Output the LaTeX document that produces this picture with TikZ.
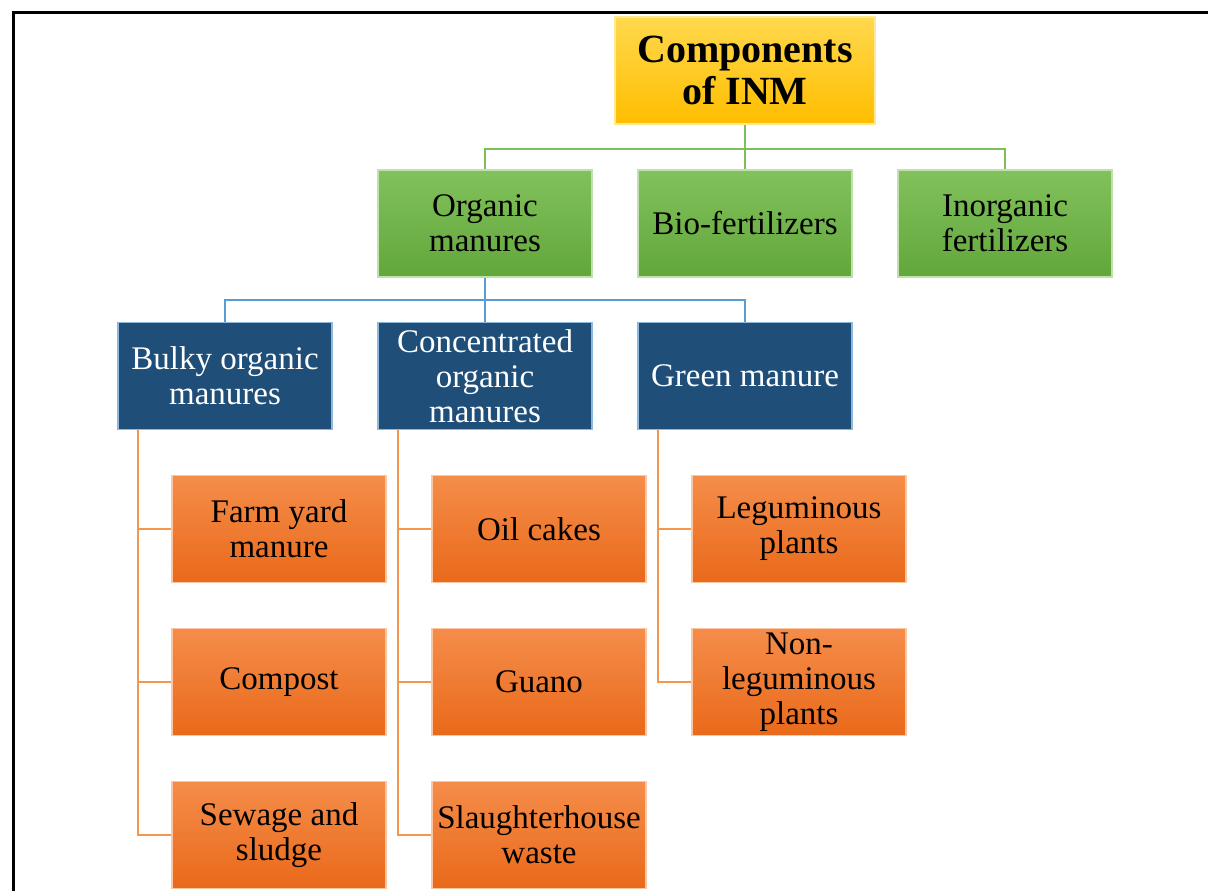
\documentclass[tikz,border=0pt]{standalone}
\usepackage{fontspec}
\setmainfont{Liberation Serif}
\usepackage{tikz}
\pgfdeclarelayer{edgelayer}
\pgfdeclarelayer{nodelayer}
\pgfsetlayers{edgelayer,nodelayer,main}
\definecolor{goldtop}{HTML}{FFD84D}
\definecolor{goldbot}{HTML}{FFBE00}
\definecolor{greentop}{HTML}{82C15C}
\definecolor{greenbot}{HTML}{62A73B}
\definecolor{darkblue}{HTML}{1F4E79}
\definecolor{orangetop}{HTML}{F58D4A}
\definecolor{orangebot}{HTML}{E9691A}
\definecolor{greenline}{HTML}{7CC05A}
\definecolor{blueline}{HTML}{5B9BD5}
\definecolor{orangeline}{HTML}{F3974F}
\tikzstyle{box}=[rectangle, minimum width=107pt, minimum height=53.5pt, inner sep=0pt, align=center, font=\fontsize{16.5}{17.5}\selectfont, line width=0.6pt]
\tikzstyle{goldbox}=[box, top color=goldtop, bottom color=goldbot, draw=goldtop!60!white, font=\fontsize{20}{21}\selectfont\bfseries, minimum width=130pt]
\tikzstyle{greenbox}=[box, top color=greentop, bottom color=greenbot, draw=greentop!50!white]
\tikzstyle{bluebox}=[box, fill=darkblue, draw=blueline!70!white, text=white]
\tikzstyle{orangebox}=[box, top color=orangetop, bottom color=orangebot, draw=orangetop!50!white]
\tikzstyle{greenedge}=[draw=greenline, line width=1pt]
\tikzstyle{blueedge}=[draw=blueline, line width=1pt]
\tikzstyle{orangeedge}=[draw=orangeline, line width=1pt]
\tikzstyle{frame}=[draw=black, line width=1.5pt]

\begin{document}
\begin{tikzpicture}[x=0.5pt, y=-0.5pt]
	\useasboundingbox (0,0) rectangle (1208,891);
	\draw [style=frame] (13,891) |- (1208,12.5);
	\begin{pgfonlayer}{nodelayer}

	%level 0
		\node [style=goldbox] (inm) at (745.0,70.5) {Components\\of INM};

	%level 1
		\node [style=greenbox] (org) at (485.0,223.5) {Organic\\manures};
		\node [style=greenbox] (bio) at (745.0,223.5) {Bio-fertilizers};
		\node [style=greenbox] (inorg) at (1005.0,223.5) {Inorganic\\fertilizers};

	%level 2
		\node [style=bluebox] (bulky) at (225.0,376.0) {Bulky organic\\manures};
		\node [style=bluebox] (conc) at (485.0,376.0) {Concentrated\\organic\\manures};
		\node [style=bluebox] (gm) at (745.0,376.0) {Green manure};

	%level 3
		\node [style=orangebox] (fym) at (279.0,529.0) {Farm yard\\manure};
		\node [style=orangebox] (compost) at (279.0,682.0) {Compost};
		\node [style=orangebox] (sewage) at (279.0,835.0) {Sewage and\\sludge};
		\node [style=orangebox] (oil) at (539.0,529.0) {Oil cakes};
		\node [style=orangebox] (guano) at (539.0,682.0) {Guano};
		\node [style=orangebox] (slaughter) at (539.0,835.0) {Slaughterhouse\\waste};
		\node [style=orangebox] (leg) at (799.0,529.0) {Leguminous\\plants};
		\node [style=orangebox] (nonleg) at (799.0,682.0) {Non-\\leguminous\\plants};

	\end{pgfonlayer}
	\begin{pgfonlayer}{edgelayer}

		%level 0 to 1
		\draw [style=greenedge] (inm.south) -- ++(0,24) -| (org.north);
		\draw [style=greenedge] (inm.south) -- (bio.north);
		\draw [style=greenedge] (inm.south) -- ++(0,24) -| (inorg.north);

		%level 1 to 2
		\draw [style=blueedge] (org.south) -- ++(0,22) -| (bulky.north);
		\draw [style=blueedge] (org.south) -- (conc.north);
		\draw [style=blueedge] (org.south) -- ++(0,22) -| (gm.north);

		%level 2 to 3
		\draw [style=orangeedge] (bulky.south west) ++(21,0) |- (fym.west);
		\draw [style=orangeedge] (bulky.south west) ++(21,0) |- (compost.west);
		\draw [style=orangeedge] (bulky.south west) ++(21,0) |- (sewage.west);
		\draw [style=orangeedge] (conc.south west) ++(21,0) |- (oil.west);
		\draw [style=orangeedge] (conc.south west) ++(21,0) |- (guano.west);
		\draw [style=orangeedge] (conc.south west) ++(21,0) |- (slaughter.west);
		\draw [style=orangeedge] (gm.south west) ++(21,0) |- (leg.west);
		\draw [style=orangeedge] (gm.south west) ++(21,0) |- (nonleg.west);

	\end{pgfonlayer}
\end{tikzpicture}
\end{document}
